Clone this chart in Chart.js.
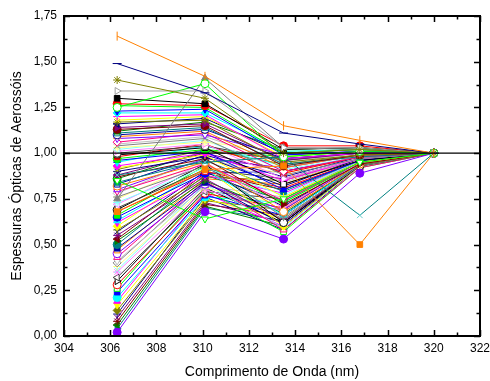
<!DOCTYPE html>
<html>
<head>
<meta charset="utf-8">
<script src="https://cdn.jsdelivr.net/npm/chart.js@4/dist/chart.umd.min.js"></script>
<style>
  html, body { margin: 0; padding: 0; background: #ffffff; }
  #wrap { width: 490px; height: 381px; }
</style>
</head>
<body>
<div id="wrap"><canvas id="aod-chart" width="490" height="381"></canvas></div>
<script>
// ======================================
// DATA — normalised aerosol optical depth
// ======================================

const wavelengths = [306.3, 310.1, 313.5, 316.8, 320.0];
const xTicks = [304, 306, 308, 310, 312, 314, 316, 318, 320, 322];
const yTicks = [0, 0.25, 0.5, 0.75, 1.0, 1.25, 1.5, 1.75];

// one row per measurement day: value at each wavelength
const aodRows = [
    [1.30, 1.27, 1.02, 1.03, 1.00],
    [1.27, 1.26, 1.04, 1.04, 1.00],
    [1.26, 1.25, 1.00, 1.02, 1.00],
    [1.23, 1.24, 0.99, 1.01, 1.00],
    [1.22, 1.22, 1.01, 1.02, 1.00],
    [1.20, 1.21, 0.97, 1.00, 1.00],
    [1.18, 1.20, 0.98, 1.01, 1.00],
    [1.17, 1.18, 0.95, 0.99, 1.00],
    [1.16, 1.19, 1.00, 1.02, 1.00],
    [1.14, 1.16, 0.96, 1.00, 1.00],
    [1.13, 1.15, 0.93, 0.99, 1.00],
    [1.12, 1.17, 1.02, 1.03, 1.00],
    [1.11, 1.14, 0.94, 0.98, 1.00],
    [1.10, 1.13, 0.97, 1.00, 1.00],
    [1.09, 1.12, 0.92, 0.99, 1.00],
    [1.08, 1.10, 0.99, 1.01, 1.00],
    [1.06, 1.11, 0.90, 0.98, 1.00],
    [1.05, 1.09, 0.95, 1.00, 1.00],
    [1.04, 1.08, 0.88, 0.97, 1.00],
    [1.03, 1.06, 1.01, 1.02, 1.00],
    [1.02, 1.07, 0.91, 0.98, 1.00],
    [1.01, 1.05, 0.86, 0.97, 1.00],
    [1.00, 1.04, 0.96, 1.00, 1.00],
    [0.99, 1.03, 0.83, 0.96, 1.00],
    [0.98, 1.05, 0.89, 0.98, 1.00],
    [0.97, 1.02, 0.98, 1.01, 1.00],
    [0.96, 1.01, 0.80, 0.96, 1.00],
    [0.95, 1.04, 0.93, 0.99, 1.00],
    [0.93, 1.00, 0.85, 0.97, 1.00],
    [0.92, 0.99, 0.76, 0.95, 1.00],
    [0.91, 1.02, 0.94, 0.99, 1.00],
    [0.90, 0.98, 0.82, 0.97, 1.00],
    [0.88, 1.00, 0.90, 0.98, 1.00],
    [0.87, 0.97, 0.72, 0.94, 1.00],
    [0.86, 1.01, 0.97, 1.00, 1.00],
    [0.84, 0.96, 0.79, 0.96, 1.00],
    [0.83, 0.99, 0.87, 0.98, 1.00],
    [0.82, 0.95, 0.68, 0.94, 1.00],
    [0.80, 0.97, 0.92, 0.99, 1.00],
    [0.79, 0.94, 0.74, 0.95, 1.00],
    [0.78, 0.98, 0.84, 0.97, 1.00],
    [0.76, 0.93, 0.65, 0.93, 1.00],
    [0.75, 0.96, 0.89, 0.98, 1.00],
    [0.73, 0.92, 0.77, 0.96, 1.00],
    [0.72, 0.95, 0.70, 0.95, 1.00],
    [0.70, 0.91, 0.86, 0.97, 1.00],
    [0.69, 0.94, 0.62, 0.93, 1.00],
    [0.68, 0.90, 0.81, 0.96, 1.00],
    [0.66, 0.93, 0.73, 0.95, 1.00],
    [0.65, 0.89, 0.90, 0.98, 1.00],
    [0.63, 0.91, 0.66, 0.94, 1.00],
    [0.62, 0.88, 0.78, 0.96, 1.00],
    [0.60, 0.92, 0.60, 0.93, 1.00],
    [0.58, 0.87, 0.85, 0.97, 1.00],
    [0.57, 0.90, 0.71, 0.95, 1.00],
    [0.55, 0.86, 0.63, 0.94, 1.00],
    [0.53, 0.89, 0.80, 0.96, 1.00],
    [0.52, 0.85, 0.67, 0.94, 1.00],
    [0.50, 0.88, 0.74, 0.95, 1.00],
    [0.48, 0.84, 0.61, 0.93, 1.00],
    [0.47, 0.86, 0.83, 0.97, 1.00],
    [0.45, 0.83, 0.69, 0.95, 1.00],
    [0.43, 0.85, 0.58, 0.92, 1.00],
    [0.41, 0.82, 0.76, 0.96, 1.00],
    [0.40, 0.84, 0.64, 0.94, 1.00],
    [0.38, 0.81, 0.72, 0.95, 1.00],
    [0.36, 0.83, 0.59, 0.93, 1.00],
    [0.35, 0.80, 0.68, 0.94, 1.00],
    [0.32, 0.79, 0.75, 0.96, 1.00],
    [0.30, 0.81, 0.62, 0.94, 1.00],
    [0.28, 0.78, 0.70, 0.95, 1.00],
    [0.26, 0.80, 0.57, 0.92, 1.00],
    [0.24, 0.77, 0.66, 0.94, 1.00],
    [0.21, 0.76, 0.73, 0.95, 1.00],
    [0.19, 0.78, 0.60, 0.93, 1.00],
    [0.17, 0.75, 0.64, 0.94, 1.00],
    [0.14, 0.74, 0.69, 0.95, 1.00],
    [0.12, 0.76, 0.58, 0.93, 1.00],
    [0.10, 0.73, 0.62, 0.94, 1.00],
    [0.08, 0.72, 0.66, 0.95, 1.00],
    [0.06, 0.71, 0.60, 0.93, 1.00],
    [0.04, 0.70, 0.63, 0.94, 1.00]
];

// days that stand out from the bundle
const outlierRows = [
    [1.64, 1.42, 1.15, 1.07, 1.00],
    [1.49, 1.33, 1.11, 1.05, 1.00],
    [1.40, 1.30, 1.00, 1.02, 1.00],
    [1.34, 1.34, 1.03, 1.03, 1.00],
    [1.25, 1.38, 0.98, 1.01, 1.00],
    [0.75, 1.41, 1.03, 1.02, 1.00],
    [0.85, 0.64, 0.75, 0.95, 1.00],
    [0.88, 0.95, 0.98, 0.66, 1.00],
    [0.68, 0.91, 0.93, 0.50, 1.00],
    [0.02, 0.68, 0.53, 0.89, 1.00]
];

// ======================================
// STYLES (Origin-like default palette)
// ======================================

const palette = [
    "#000000", "#FF0000", "#00FF00", "#0000FF", "#00FFFF", "#FF00FF",
    "#FFFF00", "#808000", "#000080", "#800080", "#800000", "#008000",
    "#008080", "#0000A0", "#FF8000", "#8000FF", "#FF0080", "#C0C0C0",
    "#808080", "#FFFF80", "#80FFFF", "#FF80FF", "#404040"
];

// [pointStyle, rotation]
const markers = [
    ["rect", 0], ["circle", 0], ["triangle", 0], ["triangle", 180],
    ["rectRot", 0], ["cross", 0], ["crossRot", 0], ["star", 0],
    ["triangle", 270], ["triangle", 90], ["circle", 0], ["rect", 0]
];

const outlierColors = ["#FF8000", "#000080", "#808000", "#A0A0A0", "#00FF00",
    "#808080", "#00FF00", "#008080", "#FF8000", "#8000FF"];
const outlierMarkers = [["line", 90], ["line", 0], ["star", 0], ["triangle", 90], ["circle", 0],
    ["triangle", 0], ["triangle", 180], ["crossRot", 0], ["rect", 0], ["circle", 0]];
const outlierFilled = [false, false, false, false, false, true, false, false, true, true];
const outlierMarkerColors = [null, null, null, null, null, null, null, "#66CCCC", null, null];

function toPoints(row) {
    return row.map(function (v, i) {
        return { x: wavelengths[i], y: v };
    });
}

function makeDataset(row, color, marker, filled, markerColor) {
    const mc = markerColor || color;
    return {
        data: toPoints(row),
        showLine: true,
        borderColor: color,
        borderWidth: 1,
        pointStyle: marker[0],
        rotation: marker[1],
        pointRadius: marker[0] === "line" ? 4.5 : 4,
        pointBorderColor: mc,
        pointBackgroundColor: filled ? mc : "#ffffff",
        pointBorderWidth: 1,
        pointHoverRadius: 4
    };
}

const datasets = [];

// reference line at 1,00 (drawn on top)
datasets.push({
    data: [{ x: xTicks[0], y: 1 }, { x: xTicks[xTicks.length - 1], y: 1 }],
    showLine: true,
    borderColor: "#000000",
    borderWidth: 1.2,
    pointRadius: 0
});

outlierRows.forEach(function (row, i) {
    datasets.push(makeDataset(row, outlierColors[i], outlierMarkers[i], outlierFilled[i], outlierMarkerColors[i]));
});

aodRows.forEach(function (row, i) {
    const color = palette[i % palette.length];
    const marker = markers[i % markers.length];
    const filled = Math.floor(i / markers.length) % 2 === 0;
    datasets.push(makeDataset(row, color, marker, filled, null));
});

// ======================================
// PLUGIN — frame + inward ticks on all sides
// ======================================

const frameTicks = {
    id: "frameTicks",
    afterDraw: function (chart) {
        const ctx = chart.ctx;
        const a = chart.chartArea;
        const xs = chart.scales.x;
        const ys = chart.scales.y;
        ctx.save();
        ctx.strokeStyle = "#000000";
        ctx.lineWidth = 1.5;

        // x ticks: majors every 2, minors every 1
        for (let v = xTicks[0]; v <= xTicks[xTicks.length - 1]; v += 1) {
            const px = Math.round(xs.getPixelForValue(v)) + 0.5;
            const len = (v % 2 === 0) ? 6 : 3.5;
            ctx.beginPath();
            ctx.moveTo(px, a.bottom);
            ctx.lineTo(px, a.bottom - len);
            ctx.moveTo(px, a.top);
            ctx.lineTo(px, a.top + len);
            ctx.stroke();
        }

        // y ticks: majors every 0.25, minors every 0.125
        for (let k = 0; k <= 14; k++) {
            const v = k * 0.125;
            const py = Math.round(ys.getPixelForValue(v)) + 0.5;
            const len = (k % 2 === 0) ? 6 : 3.5;
            ctx.beginPath();
            ctx.moveTo(a.left, py);
            ctx.lineTo(a.left + len, py);
            ctx.moveTo(a.right, py);
            ctx.lineTo(a.right - len, py);
            ctx.stroke();
        }

        ctx.lineWidth = 2;
        ctx.strokeRect(a.left, a.top, a.right - a.left, a.bottom - a.top);
        ctx.restore();
    }
};

// ======================================
// CHART
// ======================================

const fontFamily = "'Liberation Sans', Arial, Helvetica, sans-serif";

new Chart(document.getElementById("aod-chart"), {
    type: "scatter",
    data: { datasets: datasets },
    plugins: [frameTicks],
    options: {
        responsive: false,
        animation: false,
        events: [],
        layout: { padding: { top: 16, right: 10, left: 0, bottom: 0 } },
        plugins: {
            legend: { display: false },
            tooltip: { enabled: false }
        },
        scales: {
            x: {
                type: "linear",
                min: xTicks[0],
                max: xTicks[xTicks.length - 1],
                afterBuildTicks: function (scale) {
                    scale.ticks = xTicks.map(function (v) { return { value: v }; });
                },
                afterFit: function (scale) {
                    scale.height = 45;
                    scale.paddingLeft = 0;
                    scale.paddingRight = 0;
                },
                grid: { display: false, drawTicks: false },
                border: { display: false },
                ticks: {
                    color: "#000000",
                    padding: 5,
                    font: { family: fontFamily, size: 12 },
                    maxRotation: 0,
                    autoSkip: false
                },
                title: {
                    display: true,
                    text: "Comprimento de Onda (nm)",
                    color: "#000000",
                    font: { family: fontFamily, size: 14 },
                    padding: { top: 0, bottom: 0 }
                }
            },
            y: {
                type: "linear",
                min: 0,
                max: 1.75,
                afterBuildTicks: function (scale) {
                    scale.ticks = yTicks.map(function (v) { return { value: v }; });
                },
                afterFit: function (scale) {
                    scale.width = 64;
                    scale.paddingTop = 0;
                    scale.paddingBottom = 0;
                },
                grid: { display: false, drawTicks: false },
                border: { display: false },
                ticks: {
                    color: "#000000",
                    padding: 7,
                    font: { family: fontFamily, size: 12 },
                    autoSkip: false,
                    callback: function (value) {
                        return value.toFixed(2).replace(".", ",");
                    }
                },
                title: {
                    display: true,
                    text: "Espessuras Ópticas de Aerossóis",
                    color: "#000000",
                    font: { family: fontFamily, size: 14 },
                    padding: { top: 9, bottom: 0 }
                }
            }
        }
    }
});
</script>
</body>
</html>
